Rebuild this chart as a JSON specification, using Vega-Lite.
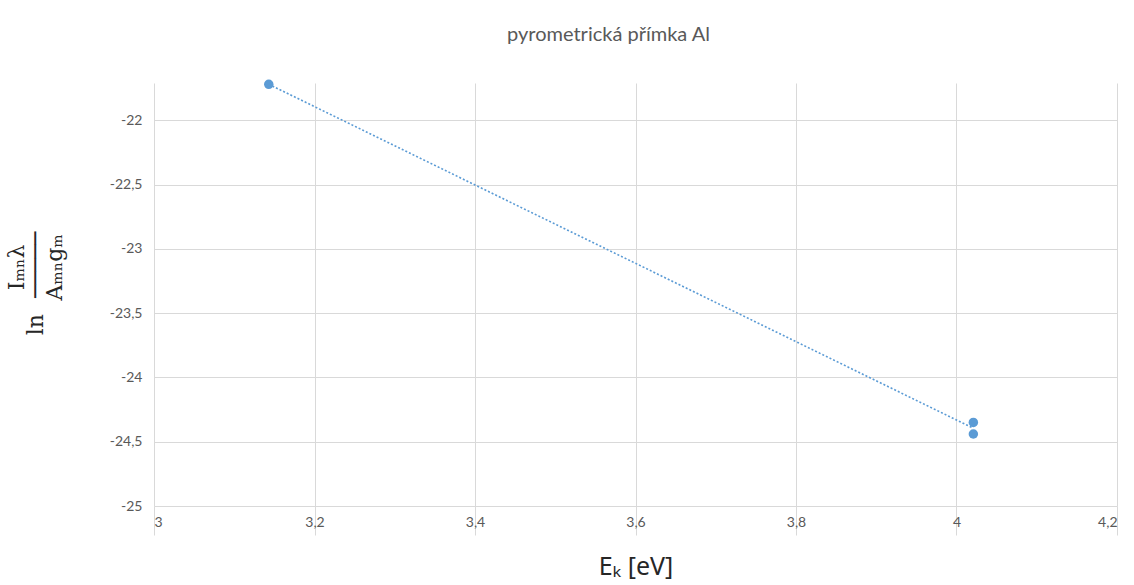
{
  "$schema": "https://vega.github.io/schema/vega-lite/v6.json",
  "autosize": {"type": "none"},
  "padding": {"left": 154, "top": 83, "right": 17, "bottom": 79},
  "width": 963,
  "height": 423,
  "background": "white",
  "title": {
    "text": "pyrometrická přímka Al",
    "frame": "group",
    "anchor": "middle",
    "dx": -27,
    "offset": 35,
    "font": "Lato",
    "fontSize": 20,
    "fontWeight": "normal",
    "color": "#595959"
  },
  "data": {
    "values": [
      {"x": 3.143, "y": -21.72},
      {"x": 4.021, "y": -24.35},
      {"x": 4.021, "y": -24.44}
    ]
  },
  "encoding": {
    "x": {
      "field": "x",
      "type": "quantitative",
      "scale": {"domain": [3, 4.2], "nice": false, "zero": false},
      "axis": {
        "values": [3, 3.2, 3.4, 3.6, 3.8, 4, 4.2],
        "labelExpr": "replace(toString(datum.value), '.', ',')",
        "title": "Eₖ [eV]",
        "titleFont": "Noto Sans",
        "titleFontSize": 25,
        "titleFontWeight": "normal",
        "titleColor": "#262626",
        "titlePadding": 19,
        "domain": false,
        "tickSize": 29,
        "tickColor": "#d9d9d9",
        "labelPadding": -20,
        "labelFont": "Lato",
        "labelFontSize": 14,
        "labelColor": "#595959",
        "gridColor": "#d9d9d9"
      }
    },
    "y": {
      "field": "y",
      "type": "quantitative",
      "scale": {"domain": [-25, -21.71], "nice": false, "zero": false},
      "axis": {
        "values": [-25, -24.5, -24, -23.5, -23, -22.5, -22],
        "labelExpr": "replace(toString(datum.value), '.', ',')",
        "title": ["\u2800\u2800Iₘₙλ", "ln\u2800─────", "\u2800\u2800Aₘₙgₘ"],
        "titleFont": "DejaVu Serif",
        "titleFontSize": 22,
        "titleFontWeight": "normal",
        "titleLineHeight": 19,
        "titleColor": "#262626",
        "titleY": 200,
        "titlePadding": 43,
        "domain": false,
        "ticks": false,
        "labelPadding": 12,
        "labelFont": "Lato",
        "labelFontSize": 14,
        "labelColor": "#595959",
        "gridColor": "#d9d9d9"
      }
    }
  },
  "layer": [
    {
      "transform": [{"regression": "y", "on": "x"}],
      "mark": {"type": "line", "color": "#5b9bd5", "strokeWidth": 1.6, "strokeDash": [2, 2]}
    },
    {
      "mark": {"type": "point", "filled": true, "color": "#5b9bd5", "opacity": 1, "size": 90}
    }
  ],
  "config": {"view": {"stroke": null}}
}
